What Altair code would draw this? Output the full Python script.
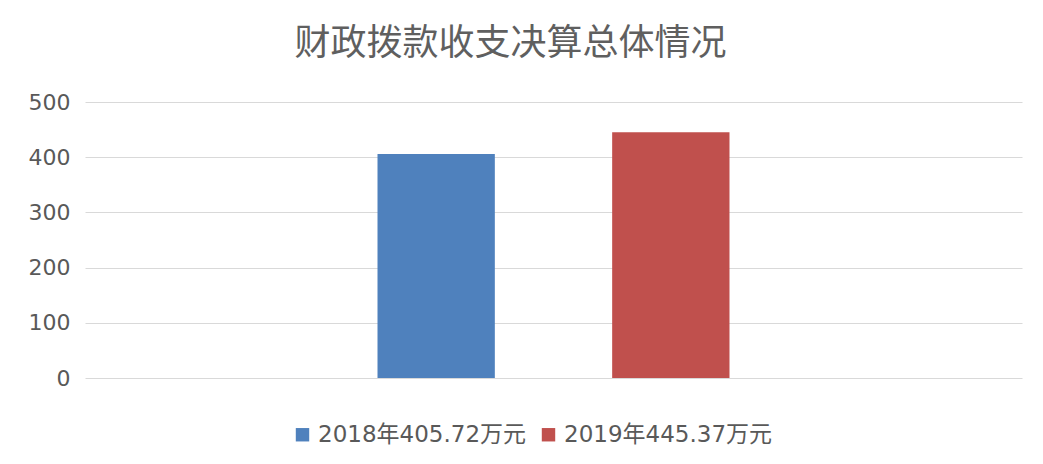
import altair as alt
import pandas as pd

series = ["2018年405.72万元", "2019年445.37万元"]
values = [405.72, 445.37]
colors = ["#4F81BD", "#C0504D"]
y_ticks = [0, 100, 200, 300, 400, 500]

df = pd.DataFrame({"group": ["总体"] * len(series), "series": series, "value": values})

FONT = "DejaVu Sans, Noto Sans CJK SC, sans-serif"
GREY = "#595959"

chart = (
    alt.Chart(df)
    .mark_bar()
    .encode(
        x=alt.X(
            "group:N",
            axis=None,
            scale=alt.Scale(paddingInner=0, paddingOuter=0.831),
        ),
        xOffset=alt.XOffset(
            "series:N",
            sort=series,
            scale=alt.Scale(paddingInner=0.5, paddingOuter=0),
        ),
        y=alt.Y(
            "value:Q",
            scale=alt.Scale(domain=[0, 500]),
            axis=alt.Axis(
                values=y_ticks,
                title=None,
                domain=False,
                ticks=False,
                labelPadding=15,
                labelFontSize=22,
                labelColor=GREY,
                labelFont=FONT,
                gridColor="#d9d9d9",
                gridWidth=1,
            ),
        ),
        color=alt.Color(
            "series:N",
            sort=series,
            scale=alt.Scale(domain=series, range=colors),
            legend=alt.Legend(
                title=None,
                orient="none",
                legendX=206,
                legendY=321,
                direction="horizontal",
                symbolType="square",
                symbolSize=180,
                symbolStrokeWidth=0,
                labelFontSize=23,
                labelColor=GREY,
                labelFont=FONT,
                labelOffset=4,
                columnPadding=10,
                labelLimit=400,
            ),
        ),
    )
    .properties(
        width=937,
        height=276,
        title=alt.TitleParams(
            "财政拨款收支决算总体情况",
            fontSize=36,
            font="Noto Sans CJK SC",
            fontWeight="normal",
            color="#5f5f5f",
            anchor="middle",
            dx=-43,
            offset=28,
        ),
        autosize=alt.AutoSizeParams(type="none"),
        padding={"left": 77, "top": 94, "right": 13, "bottom": 78},
    )
    .configure_view(stroke="transparent")
)

chart.save("out.html", embed_options={"renderer": "svg", "actions": False})
